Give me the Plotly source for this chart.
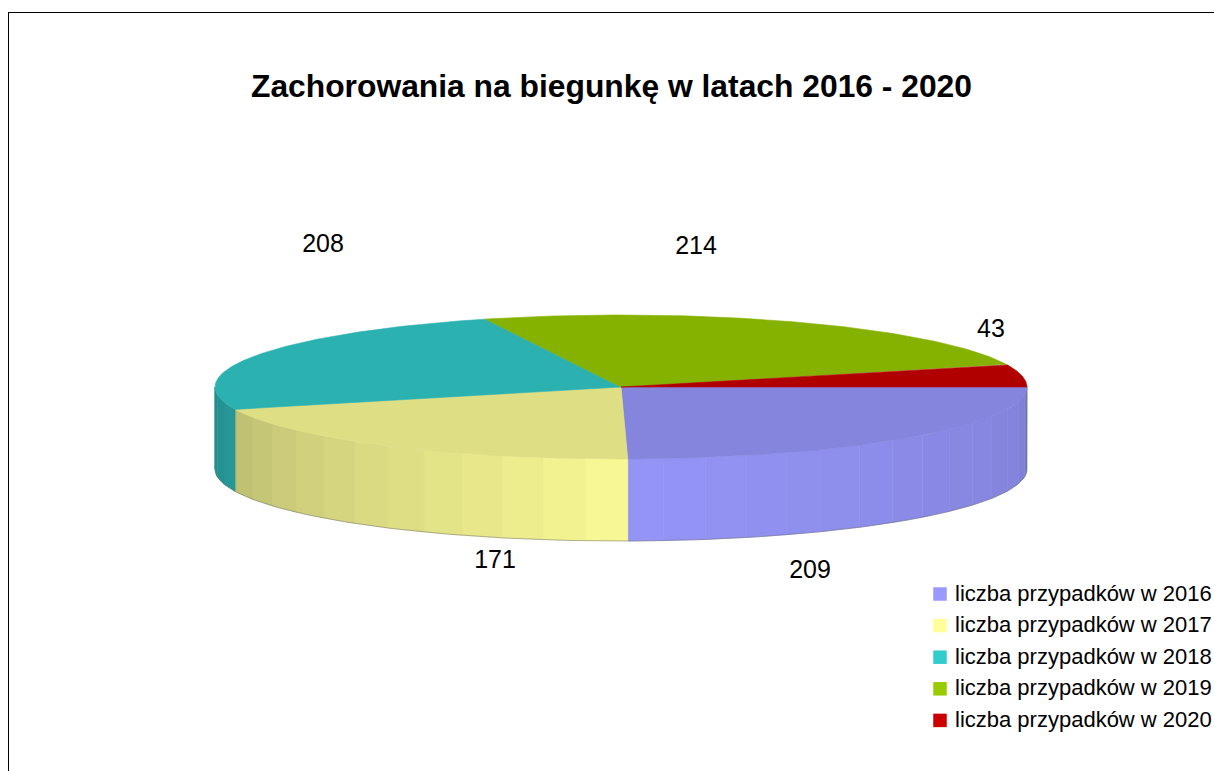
import numpy as np
import plotly.graph_objects as go

title = "Zachorowania na biegunkę w latach 2016 - 2020"
series_names = ["liczba przypadków w 2016", "liczba przypadków w 2017", "liczba przypadków w 2018",
                "liczba przypadków w 2019", "liczba przypadków w 2020"]
cases = [209, 171, 208, 214, 43]
base_colors = [(153, 153, 255), (255, 255, 153), (51, 204, 204), (153, 204, 0), (204, 0, 0)]
label_x = [810, 495, 323, 696, 991]
label_y = [572, 562, 246, 248, 331]
legend_y = [594, 625.6, 657.2, 688.8, 720.4]

W, H = 1214, 771
CX, CY, RX, RY, DEPTH = 621, 387, 406, 72, 82
TOP_SHADE = 0.87
BAND_DEG = 6
LEGEND_SWATCH_X, LEGEND_TEXT_X = 940, 955
LEGEND_TEXT_DY = 1


def col(rgb, f):
    return "rgb(%d,%d,%d)" % tuple(min(255, round(c * f)) for c in rgb)


def ell(theta_deg):
    t = np.radians(theta_deg)
    return CX + RX * np.cos(t), CY + RY * np.sin(t)


def wall_shade(theta):
    if theta < 90:
        return 0.975 - 0.0015 * (90 - theta) - 0.005 * max(0, 12 - theta)
    return 0.975 - 0.0032 * (theta - 90)


fig = go.Figure()
shares = np.array(cases) / sum(cases) * 360
edges = np.concatenate([[0], np.cumsum(shares)])

# side walls (front half only), drawn as shaded bands
for i, rgb in enumerate(base_colors):
    a0, a1 = edges[i], min(edges[i + 1], 180)
    if a0 >= 180:
        continue
    bands = np.append(np.arange(a0, a1, BAND_DEG), a1)
    for b0, b1 in zip(bands[:-1], bands[1:]):
        f = wall_shade((b0 + b1) / 2)
        arc = np.linspace(b0, b1, 8)
        x, y = ell(arc)
        xs = np.concatenate([x, x[::-1], x[:1]])
        ys = np.concatenate([y, y[::-1] + DEPTH, y[:1]])
        fig.add_trace(go.Scatter(x=xs, y=ys, mode="lines", fill="toself", fillcolor=col(rgb, f),
                                 line=dict(color=col(rgb, f), width=0.6),
                                 showlegend=False, hoverinfo="skip"))

# soft outer edge of the wall
arc = np.linspace(0, 180, 200)
x, y = ell(arc)
fig.add_trace(go.Scatter(x=np.concatenate([[x[0]], x]), y=np.concatenate([[y[0]], y + DEPTH]),
                         mode="lines", line=dict(color="rgba(110,110,110,0.5)", width=1),
                         showlegend=False, hoverinfo="skip"))

# top face sectors
for i, rgb in enumerate(base_colors):
    arc = np.linspace(edges[i], edges[i + 1], 120)
    x, y = ell(arc)
    fig.add_trace(go.Scatter(x=np.concatenate([[CX], x, [CX]]), y=np.concatenate([[CY], y, [CY]]),
                             mode="lines", fill="toself", fillcolor=col(rgb, TOP_SHADE),
                             line=dict(color=col(rgb, TOP_SHADE), width=0.6),
                             name=series_names[i], showlegend=False,
                             hovertemplate="%s: %d<extra></extra>" % (series_names[i], cases[i])))

# legend: swatches and names
fig.add_trace(go.Scatter(x=[LEGEND_SWATCH_X] * len(series_names), y=legend_y, mode="markers",
                         marker=dict(symbol="square", size=13.5, color=[col(c, 1) for c in base_colors]),
                         showlegend=False, hoverinfo="skip"))
fig.add_trace(go.Scatter(x=[LEGEND_TEXT_X] * len(series_names),
                         y=[v + LEGEND_TEXT_DY for v in legend_y], mode="text", text=series_names,
                         textposition="middle right", cliponaxis=False,
                         textfont=dict(family="Liberation Sans", size=22, color="black"),
                         showlegend=False, hoverinfo="skip"))

# value labels
fig.add_trace(go.Scatter(x=label_x, y=label_y, mode="text", text=[str(v) for v in cases],
                         textposition="middle center",
                         textfont=dict(family="Liberation Sans", size=25, color="black"),
                         showlegend=False, hoverinfo="skip"))

fig.update_layout(
    width=W, height=H, margin=dict(l=0, r=0, t=0, b=0), showlegend=False,
    paper_bgcolor="white", plot_bgcolor="white",
    xaxis=dict(range=[0, W], visible=False, fixedrange=True),
    yaxis=dict(range=[H, 0], visible=False, fixedrange=True),
    title=dict(text="<b>%s</b>" % title, x=611.5 / W, xanchor="center", y=1 - 86 / H, yanchor="middle",
               font=dict(family="Liberation Sans", size=31.8, color="black")),
    shapes=[
        dict(type="line", xref="x", yref="y", x0=8.5, x1=8.5, y0=12, y1=H, line=dict(color="black", width=1)),
        dict(type="line", xref="x", yref="y", x0=8.5, x1=W, y0=12.5, y1=12.5, line=dict(color="black", width=1)),
    ],
)

fig.write_html("out.html", config={"displayModeBar": False},
               post_script="document.body.style.margin='0';document.body.style.overflow='hidden';")
